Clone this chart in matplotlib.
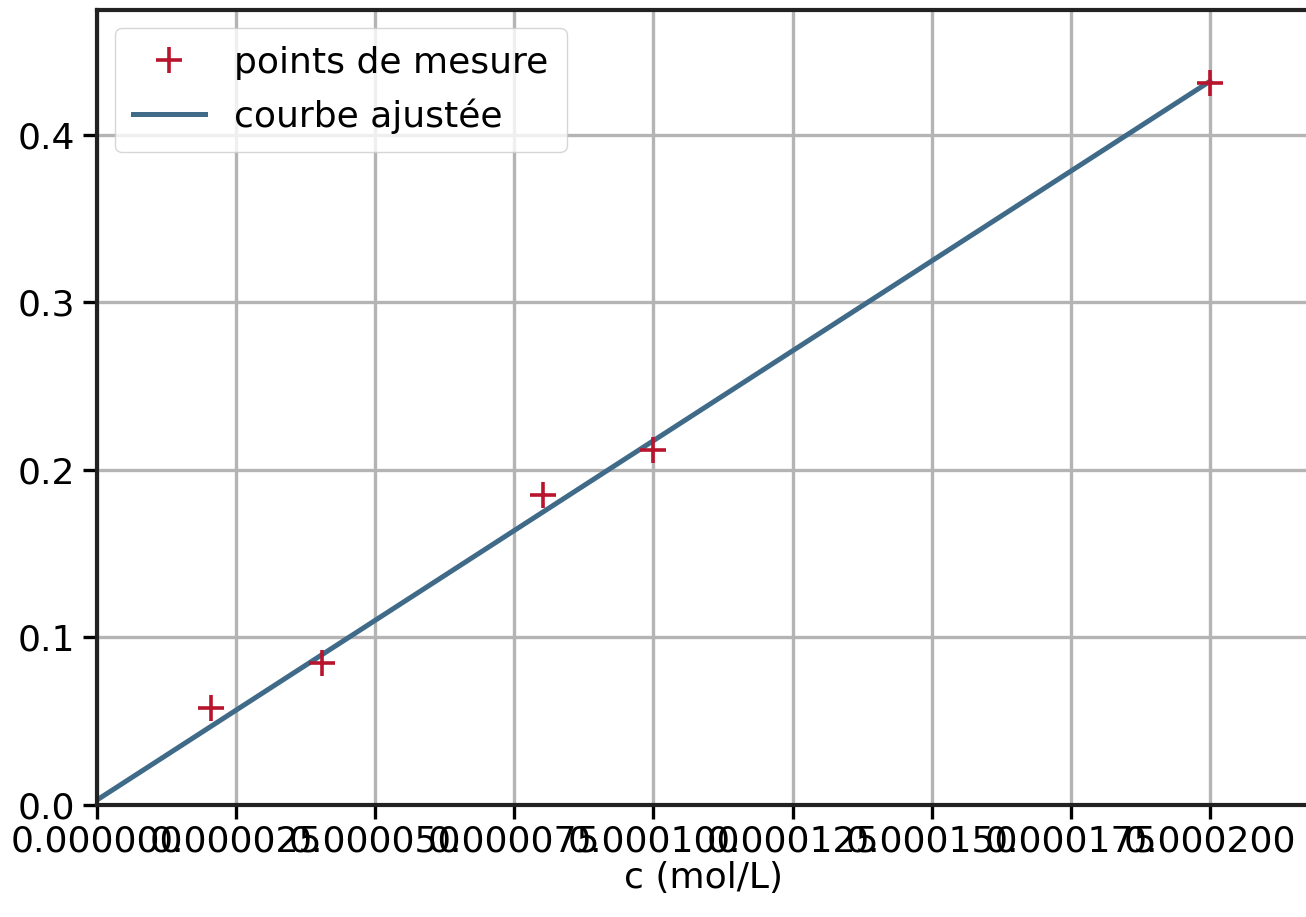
import matplotlib
matplotlib.use("Agg")
import matplotlib.pyplot as plt
from matplotlib.ticker import FormatStrFormatter, MultipleLocator

# measured points (concentration in mol/L, absorbance)
conc = [0.0000205, 0.0000405, 0.0000802, 0.0001000, 0.0002000]
absorb = [0.058, 0.085, 0.185, 0.212, 0.431]

# fitted line, end points
fit_x = [0.0, 0.0002]
fit_y = [0.003, 0.432]

FS = 26

fig = plt.figure(figsize=(13.06, 9.17), dpi=100)
ax = fig.add_axes([97 / 1306, 112 / 917, 1213 / 1306, 795 / 917])

ax.plot(conc, absorb, "+", color="#b8142e", ms=19, mew=2.6,
        label="points de mesure", zorder=3)
ax.plot(fit_x, fit_y, color="#3f6a88", lw=3.6, label="courbe ajustée",
        zorder=2)

ax.set_xlim(0, 0.000218)
ax.set_ylim(0, 0.4746)
ax.xaxis.set_major_locator(MultipleLocator(0.000025))
ax.yaxis.set_major_locator(MultipleLocator(0.1))
ax.xaxis.set_major_formatter(FormatStrFormatter("%.6f"))
ax.yaxis.set_major_formatter(FormatStrFormatter("%.1f"))

ax.grid(True, color="#b4b4b4", lw=2.4)
ax.set_axisbelow(True)
for s in ax.spines.values():
    s.set_linewidth(3.0)
    s.set_color("#222222")
ax.tick_params(labelsize=FS, length=10, width=2.4, pad=4)
ax.tick_params(axis="y", pad=6)
ax.set_xlabel("c (mol/L)", fontsize=FS, labelpad=2)

ax.legend(loc="upper left", fontsize=FS, framealpha=0.8,
          borderpad=0.5, handlelength=2.0, edgecolor="#cccccc")

fig.savefig("out.png", dpi=100)
